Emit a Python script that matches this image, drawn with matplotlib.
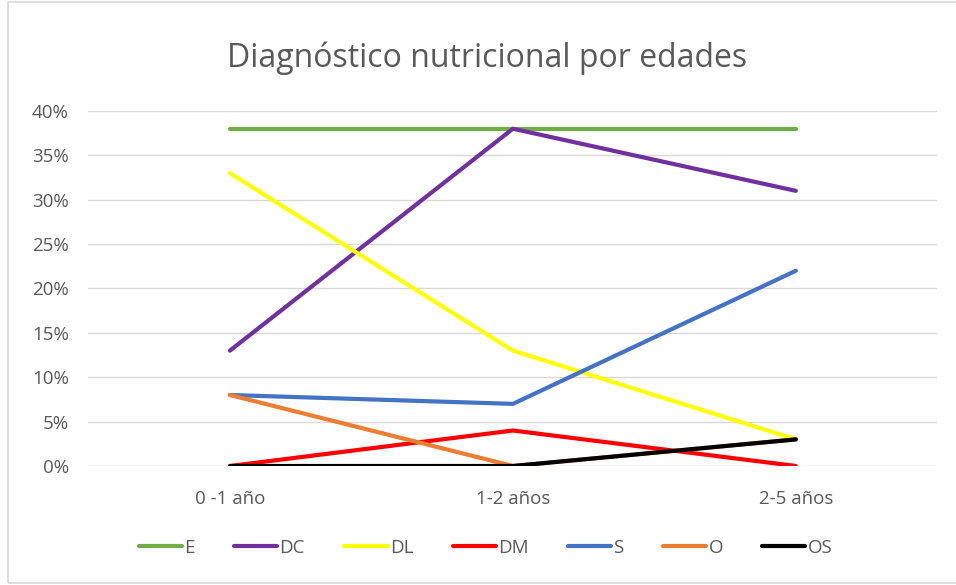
import matplotlib.pyplot as plt
import matplotlib.patches as patches
from matplotlib.ticker import PercentFormatter

# Data
categories = ['0 -1 año', '1-2 años', '2-5 años']
E = [0.38, 0.38, 0.38]
DC = [0.13, 0.38, 0.31]
DL = [0.33, 0.13, 0.03]
DM = [0.00, 0.04, 0.00]
S = [0.08, 0.07, 0.22]
O = [0.08, 0.00, 0.03]
OS = [0.00, 0.00, 0.03]

series = [('E', E, '#70AD47'), ('DC', DC, '#7030A0'), ('DL', DL, '#FFFF00'),
          ('DM', DM, '#FF0000'), ('S', S, '#4472C4'), ('O', O, '#ED7D31'),
          ('OS', OS, '#000000')]

plt.rcParams['font.family'] = ['Open Sans', 'DejaVu Sans']

fig = plt.figure(figsize=(9.56, 5.85), dpi=100)
ax = fig.add_axes([0.0925, 0.2034, 0.888, 0.6069])

x = range(len(categories))
for name, vals, col in series:
    ax.plot(x, vals, color=col, linewidth=3, label=name, solid_capstyle='round')

ax.set_xlim(-0.5, 2.5)
ax.set_ylim(0, 0.40)
ax.set_yticks([i * 0.05 for i in range(9)])
ax.yaxis.set_major_formatter(PercentFormatter(1.0, decimals=0))
ax.set_xticks(list(x))
ax.set_xticklabels(categories)
ax.grid(axis='y', color='#D9D9D9', linewidth=1)
ax.set_axisbelow(True)
for s in ax.spines.values():
    s.set_visible(False)
ax.tick_params(axis='both', length=0, labelsize=13.5, colors='#595959')
ax.tick_params(axis='y', pad=14)
ax.tick_params(axis='x', pad=17)

fig.text(0.51, 0.9, 'Diagnóstico nutricional por edades', ha='center', va='center',
         fontsize=23, color='#595959')

ax.legend(loc='center', bbox_to_anchor=(0.508, 0.0632), bbox_transform=fig.transFigure,
          ncol=7, frameon=False, fontsize=13.5, handlelength=2.3, handletextpad=0.12,
          columnspacing=2.1, labelcolor='#595959')

fig.patches.append(patches.Rectangle((8 / 956, 0.003), 1.0, 0.994, transform=fig.transFigure,
                                     fill=False, edgecolor='#D9D9D9', linewidth=1.2))

fig.savefig('out.png', dpi=100)
